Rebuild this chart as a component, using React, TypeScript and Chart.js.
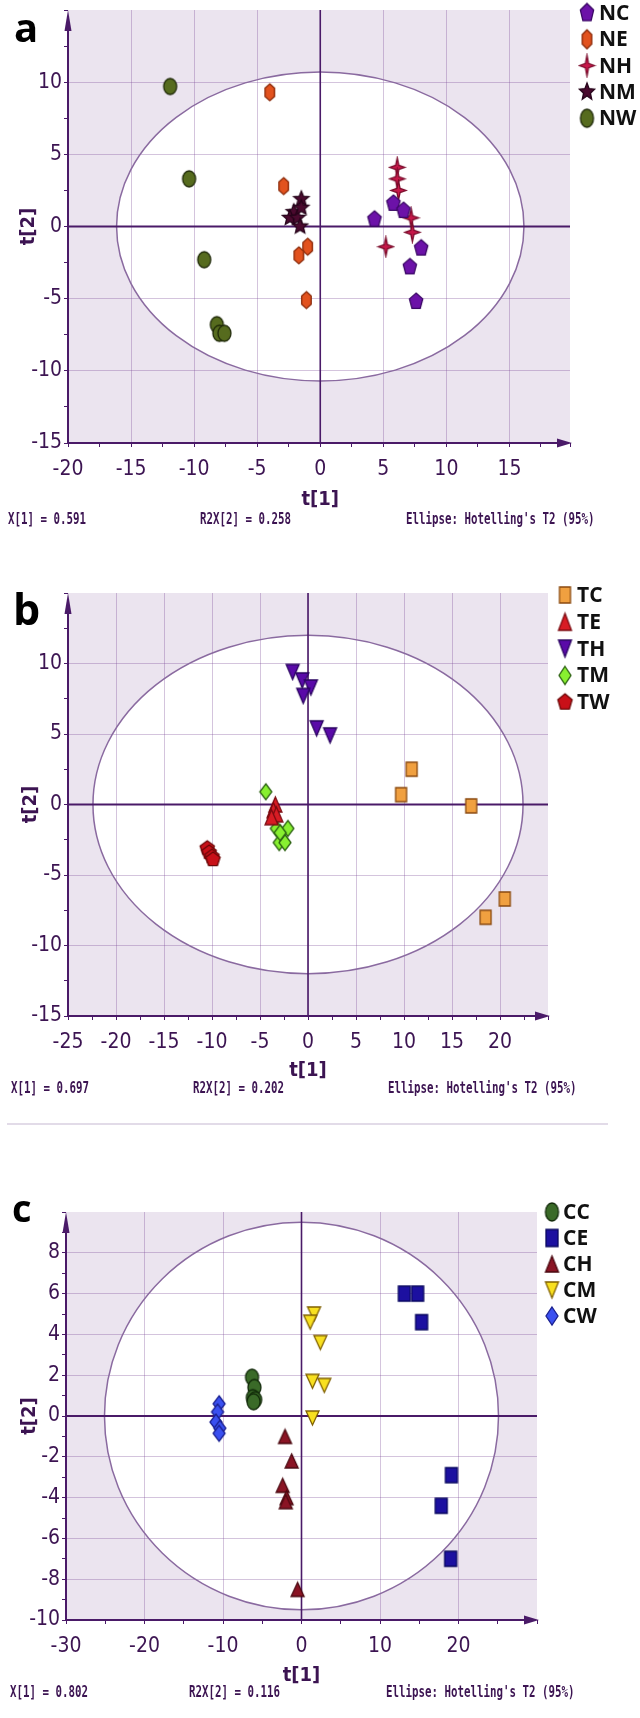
import React, { useEffect, useRef } from 'react';
import { Chart, registerables } from 'chart.js';

Chart.register(...registerables);

// ---------- Panel a data ----------
const NC_x = [4.3, 5.8, 6.6, 8.0, 7.1, 7.6];
const NC_y = [0.5, 1.6, 1.1, -1.5, -2.8, -5.2];
const NE_x = [-4.0, -2.9, -1.0, -1.7, -1.1];
const NE_y = [9.3, 2.8, -1.4, -2.0, -5.1];
const NH_x = [6.1, 6.1, 6.2, 7.2, 7.3, 5.2];
const NH_y = [4.1, 3.3, 2.5, 0.6, -0.4, -1.4];
const NM_x = [-1.5, -2.1, -2.4, -1.8, -1.6, -1.5];
const NM_y = [1.9, 1.0, 0.6, 0.6, 0.0, 1.3];
const NW_x = [-11.9, -10.4, -9.2, -8.2, -8.0, -7.6];
const NW_y = [9.7, 3.3, -2.3, -6.8, -7.4, -7.4];

// ---------- Panel b data ----------
const TC_x = [10.8, 9.7, 17.0, 20.5, 18.5];
const TC_y = [2.5, 0.7, -0.1, -6.7, -8.0];
const TE_x = [-3.4, -3.6, -3.3, -3.8];
const TE_y = [0.0, -0.4, -0.7, -0.9];
const TH_x = [-1.6, -0.6, 0.3, -0.5, 0.9, 2.3];
const TH_y = [9.4, 8.8, 8.3, 7.7, 5.4, 4.9];
const TM_x = [-4.4, -3.3, -2.1, -3.0, -2.4, -2.9];
const TM_y = [0.9, -1.7, -1.7, -2.7, -2.7, -2.0];
const TW_x = [-10.5, -10.3, -10.0, -9.9];
const TW_y = [-3.1, -3.4, -3.7, -3.9];

// ---------- Panel c data ----------
const CC_x = [-6.3, -6.0, -6.2, -5.9, -6.1];
const CC_y = [1.9, 1.4, 0.9, 0.8, 0.7];
const CE_x = [13.1, 14.8, 15.3, 19.1, 17.8, 19.0];
const CE_y = [6.0, 6.0, 4.6, -2.9, -4.4, -7.0];
const CH_x = [-2.1, -1.25, -2.4, -1.9, -2.0, -0.5];
const CH_y = [-1.0, -2.2, -3.4, -4.0, -4.2, -8.5];
const CM_x = [1.6, 1.1, 2.4, 1.4, 2.9, 1.4];
const CM_y = [5.0, 4.6, 3.6, 1.7, 1.5, -0.1];
const CW_x = [-10.5, -10.7, -10.9, -10.4, -10.5];
const CW_y = [0.6, 0.2, -0.3, -0.6, -0.85];

// ---------- Texts ----------
const FOOT_A = ['X[1] = 0.591', 'R2X[2] = 0.258', "Ellipse: Hotelling's T2 (95%)"];
const FOOT_B = ['X[1] = 0.697', 'R2X[2] = 0.202', "Ellipse: Hotelling's T2 (95%)"];
const FOOT_C = ['X[1] = 0.802', 'R2X[2] = 0.116', "Ellipse: Hotelling's T2 (95%)"];

const AXIS = '#4a1a68';
const GRID = 'rgba(120,70,150,0.32)';
const TXT = '#3c1452';
const TICK_FONT = "'Liberation Sans Narrow','DejaVu Sans Condensed','Arial Narrow',sans-serif";

type Shape = 'pentagon' | 'hexagon' | 'star4' | 'star5' | 'ellipse' | 'rect' | 'triUp' | 'triDown' | 'diamond';

function makeMarker(shape: Shape, fill: string, stroke: string, w: number, h: number) {
  const pad = 2;
  const c = document.createElement('canvas');
  c.width = w + pad * 2;
  c.height = h + pad * 2;
  const ctx = c.getContext('2d')!;
  const cx = c.width / 2, cy = c.height / 2, rx = w / 2, ry = h / 2;
  ctx.beginPath();
  const star = (n: number, inner: number) => {
    for (let k = 0; k < n * 2; k++) {
      const a = -Math.PI / 2 + (k * Math.PI) / n;
      const r = k % 2 === 0 ? 1 : inner;
      const px = cx + rx * r * Math.cos(a), py = cy + ry * r * Math.sin(a);
      if (k === 0) ctx.moveTo(px, py); else ctx.lineTo(px, py);
    }
    ctx.closePath();
  };
  const poly = (n: number) => {
    for (let k = 0; k < n; k++) {
      const a = -Math.PI / 2 + (k * 2 * Math.PI) / n;
      const px = cx + rx * Math.cos(a), py = cy + ry * Math.sin(a);
      if (k === 0) ctx.moveTo(px, py); else ctx.lineTo(px, py);
    }
    ctx.closePath();
  };
  switch (shape) {
    case 'pentagon': poly(5); break;
    case 'hexagon': poly(6); break;
    case 'star4': star(4, 0.3); break;
    case 'star5': star(5, 0.45); break;
    case 'ellipse': ctx.ellipse(cx, cy, rx, ry, 0, 0, Math.PI * 2); break;
    case 'rect': ctx.rect(cx - rx, cy - ry, w, h); break;
    case 'triUp': ctx.moveTo(cx, cy - ry); ctx.lineTo(cx + rx, cy + ry); ctx.lineTo(cx - rx, cy + ry); ctx.closePath(); break;
    case 'triDown': ctx.moveTo(cx, cy + ry); ctx.lineTo(cx + rx, cy - ry); ctx.lineTo(cx - rx, cy - ry); ctx.closePath(); break;
    case 'diamond': ctx.moveTo(cx, cy - ry); ctx.lineTo(cx + rx, cy); ctx.lineTo(cx, cy + ry); ctx.lineTo(cx - rx, cy); ctx.closePath(); break;
  }
  ctx.fillStyle = fill;
  ctx.fill();
  ctx.lineWidth = 1.3;
  ctx.strokeStyle = stroke;
  ctx.stroke();
  return c;
}

type Series = { name: string; xs: number[]; ys: number[]; shape: Shape; fill: string; stroke: string; w: number; h: number };
type AxisCfg = { min: number; max: number; step: number; major: number; labelMax: number };
type PanelCfg = {
  top: number; height: number;
  area: { left: number; right: number; top: number; bottom: number };
  x: AxisCfg; y: AxisCfg;
  ellipse: [number, number];
  letter: string; letterX: number; letterY: number; letterSize: number;
  legend: { mx: number; tx: number; y0: number; dy: number; size: number };
  xTitleY: number; yTitleX: number;
  footerY: number; footerX: number[]; footer: string[];
  separatorY?: number;
  series: Series[];
};

const panels: PanelCfg[] = [
  {
    top: 0, height: 540,
    area: { left: 68, right: 570, top: 10, bottom: 443 },
    x: { min: -20, max: 19.8, step: 2.5, major: 5, labelMax: 15 },
    y: { min: -15, max: 15, step: 2.5, major: 5, labelMax: 10 },
    ellipse: [16.15, 10.7],
    letter: 'a', letterX: 14, letterY: 42, letterSize: 40,
    legend: { mx: 587, tx: 599, y0: 13, dy: 26.3, size: 21 },
    xTitleY: 500, yTitleX: 29,
    footerY: 520, footerX: [8, 200, 406], footer: FOOT_A,
    series: [
      { name: 'NC', xs: NC_x, ys: NC_y, shape: 'pentagon', fill: '#6c12a8', stroke: '#3a0864', w: 14, h: 17 },
      { name: 'NE', xs: NE_x, ys: NE_y, shape: 'hexagon', fill: '#e2521e', stroke: '#8a2a0a', w: 11, h: 17 },
      { name: 'NH', xs: NH_x, ys: NH_y, shape: 'star4', fill: '#c8184a', stroke: '#7a0a2a', w: 15, h: 19 },
      { name: 'NM', xs: NM_x, ys: NM_y, shape: 'star5', fill: '#4a0a2e', stroke: '#26041a', w: 16, h: 16 },
      { name: 'NW', xs: NW_x, ys: NW_y, shape: 'ellipse', fill: '#566b1e', stroke: '#1e2808', w: 13, h: 16 },
    ],
  },
  {
    top: 540, height: 590,
    area: { left: 68, right: 548, top: 53, bottom: 476 },
    x: { min: -25, max: 25, step: 2.5, major: 5, labelMax: 20 },
    y: { min: -15, max: 15, step: 2.5, major: 5, labelMax: 10 },
    ellipse: [22.4, 12.0],
    letter: 'b', letterX: 13, letterY: 85, letterSize: 43,
    legend: { mx: 565, tx: 577, y0: 55, dy: 26.8, size: 21 },
    xTitleY: 531, yTitleX: 31,
    footerY: 549, footerX: [11, 193, 388], footer: FOOT_B,
    separatorY: 584,
    series: [
      { name: 'TC', xs: TC_x, ys: TC_y, shape: 'rect', fill: '#f0a040', stroke: '#8a4a10', w: 11, h: 14 },
      { name: 'TE', xs: TE_x, ys: TE_y, shape: 'triUp', fill: '#d81c24', stroke: '#7a0a10', w: 13, h: 15 },
      { name: 'TH', xs: TH_x, ys: TH_y, shape: 'triDown', fill: '#5a0aa8', stroke: '#2a0460', w: 13, h: 15 },
      { name: 'TM', xs: TM_x, ys: TM_y, shape: 'diamond', fill: '#88f030', stroke: '#2a6010', w: 12, h: 16 },
      { name: 'TW', xs: TW_x, ys: TW_y, shape: 'pentagon', fill: '#c81018', stroke: '#6a0808', w: 15, h: 15 },
    ],
  },
  {
    top: 1130, height: 588,
    area: { left: 66, right: 537, top: 82, bottom: 490 },
    x: { min: -30, max: 30, step: 5, major: 10, labelMax: 20 },
    y: { min: -10, max: 10, step: 1, major: 2, labelMax: 8 },
    ellipse: [25.1, 9.5],
    letter: 'c', letterX: 12, letterY: 92, letterSize: 38,
    legend: { mx: 552, tx: 563, y0: 82, dy: 26, size: 21 },
    xTitleY: 546, yTitleX: 30,
    footerY: 563, footerX: [10, 189, 386], footer: FOOT_C,
    series: [
      { name: 'CC', xs: CC_x, ys: CC_y, shape: 'ellipse', fill: '#3a6a28', stroke: '#102808', w: 13, h: 16 },
      { name: 'CE', xs: CE_x, ys: CE_y, shape: 'rect', fill: '#1c10a0', stroke: '#0a0860', w: 12, h: 15 },
      { name: 'CH', xs: CH_x, ys: CH_y, shape: 'triUp', fill: '#8a1424', stroke: '#4a0810', w: 13, h: 14 },
      { name: 'CM', xs: CM_x, ys: CM_y, shape: 'triDown', fill: '#f8e020', stroke: '#806000', w: 13, h: 14 },
      { name: 'CW', xs: CW_x, ys: CW_y, shape: 'diamond', fill: '#3a50f0', stroke: '#1a2090', w: 12, h: 16 },
    ],
  },
];

const isMult = (v: number, m: number) => Math.abs(v / m - Math.round(v / m)) < 1e-6;

function axisOptions(a: AxisCfg, horizontal: boolean, p: PanelCfg) {
  return {
    type: 'linear',
    min: a.min,
    max: a.max,
    bounds: 'data',
    grid: {
      color: (c: any) => {
        const v = c.tick ? c.tick.value : NaN;
        if (!isFinite(v)) return 'transparent';
        return isMult(v, a.major) && v > a.min + 1e-6 && v < a.max - 1e-6 ? GRID : 'transparent';
      },
      tickColor: AXIS,
      tickLength: 4,
      lineWidth: 1,
      drawTicks: true,
    },
    border: { display: false },
    ticks: {
      stepSize: a.step,
      includeBounds: false,
      autoSkip: false,
      maxRotation: 0,
      padding: horizontal ? 10 : 2,
      color: TXT,
      font: { family: TICK_FONT, size: 21 },
      callback: (v: any) => {
        const n = Number(v);
        return isMult(n, a.major) && n <= a.labelMax + 1e-6 ? String(Math.round(n)) : '';
      },
    },
    afterFit: (s: any) => {
      if (horizontal) {
        s.height = p.height - p.area.bottom;
      } else {
        s.width = p.area.left;
      }
      s.paddingTop = 0; s.paddingBottom = 0; s.paddingLeft = 0; s.paddingRight = 0;
    },
  };
}

function buildConfig(p: PanelCfg): any {
  const imgs = p.series.map((s) => makeMarker(s.shape, s.fill, s.stroke, s.w, s.h));
  const legendImgs = p.series.map((s) => makeMarker(s.shape, s.fill, s.stroke, s.w, s.h + 2));
  const decor = {
    id: 'decor',
    beforeDraw(chart: any) {
      const { ctx, chartArea: ca, scales } = chart;
      const x = scales.x, y = scales.y;
      ctx.save();
      ctx.fillStyle = '#ebe4ef';
      ctx.fillRect(ca.left, ca.top, ca.right - ca.left, ca.bottom - ca.top);
      const cx = x.getPixelForValue(0), cy = y.getPixelForValue(0);
      const rx = x.getPixelForValue(p.ellipse[0]) - cx;
      const ry = cy - y.getPixelForValue(p.ellipse[1]);
      ctx.beginPath();
      ctx.ellipse(cx, cy, rx, ry, 0, 0, Math.PI * 2);
      ctx.fillStyle = '#ffffff';
      ctx.fill();
      ctx.restore();
    },
    beforeDatasetsDraw(chart: any) {
      const { ctx, chartArea: ca, scales } = chart;
      const x = scales.x, y = scales.y;
      ctx.save();
      const cx = x.getPixelForValue(0), cy = y.getPixelForValue(0);
      const rx = x.getPixelForValue(p.ellipse[0]) - cx;
      const ry = cy - y.getPixelForValue(p.ellipse[1]);
      ctx.beginPath();
      ctx.ellipse(cx, cy, rx, ry, 0, 0, Math.PI * 2);
      ctx.strokeStyle = '#8a6aa0';
      ctx.lineWidth = 1.5;
      ctx.stroke();
      // zero lines
      ctx.strokeStyle = AXIS;
      ctx.lineWidth = 1.6;
      ctx.beginPath();
      ctx.moveTo(cx, ca.top);
      ctx.lineTo(cx, ca.bottom);
      ctx.stroke();
      ctx.lineWidth = 2.2;
      ctx.beginPath();
      ctx.moveTo(ca.left, cy);
      ctx.lineTo(ca.right, cy);
      ctx.stroke();
      // axes with arrows
      ctx.lineWidth = 2;
      ctx.beginPath();
      ctx.moveTo(ca.left, ca.bottom);
      ctx.lineTo(ca.left, ca.top + 10);
      ctx.moveTo(ca.left, ca.bottom);
      ctx.lineTo(ca.right - 8, ca.bottom);
      ctx.stroke();
      ctx.fillStyle = AXIS;
      ctx.beginPath();
      ctx.moveTo(ca.left, ca.top);
      ctx.lineTo(ca.left + 3.5, ca.top + 21);
      ctx.lineTo(ca.left - 3.5, ca.top + 21);
      ctx.closePath();
      ctx.fill();
      ctx.beginPath();
      ctx.moveTo(ca.right + 2, ca.bottom);
      ctx.lineTo(ca.right - 13, ca.bottom - 4.5);
      ctx.lineTo(ca.right - 13, ca.bottom + 4.5);
      ctx.closePath();
      ctx.fill();
      ctx.restore();
    },
    afterDraw(chart: any) {
      const { ctx, scales } = chart;
      const x = scales.x, y = scales.y;
      ctx.save();
      // legend
      p.series.forEach((s, i) => {
        const yy = p.legend.y0 + i * p.legend.dy;
        const img = legendImgs[i];
        ctx.drawImage(img, p.legend.mx - img.width / 2, yy - img.height / 2);
        ctx.font = `bold ${p.legend.size}px 'Open Sans', sans-serif`;
        ctx.fillStyle = '#111111';
        ctx.textAlign = 'left';
        ctx.textBaseline = 'middle';
        ctx.fillText(s.name, p.legend.tx, yy + 1);
      });
      // panel letter
      ctx.font = `bold ${p.letterSize}px 'Open Sans', sans-serif`;
      ctx.fillStyle = '#000000';
      ctx.textAlign = 'left';
      ctx.textBaseline = 'alphabetic';
      ctx.fillText(p.letter, p.letterX, p.letterY);
      // axis titles
      ctx.font = `bold 20px ${TICK_FONT}`;
      ctx.fillStyle = TXT;
      ctx.textAlign = 'center';
      ctx.textBaseline = 'middle';
      ctx.fillText('t[1]', x.getPixelForValue(0), p.xTitleY);
      ctx.save();
      ctx.translate(p.yTitleX, y.getPixelForValue(0));
      ctx.rotate(-Math.PI / 2);
      ctx.fillText('t[2]', 0, 0);
      ctx.restore();
      // footer
      ctx.font = "bold 15px 'DejaVu Sans Mono', monospace";
      ctx.textAlign = 'left';
      ctx.fillStyle = TXT;
      p.footer.forEach((t, i) => {
        ctx.save();
        ctx.translate(p.footerX[i], p.footerY);
        ctx.scale(0.72, 1);
        ctx.fillText(t, 0, 0);
        ctx.restore();
      });
      if (p.separatorY !== undefined) {
        ctx.strokeStyle = '#d9cfe0';
        ctx.lineWidth = 1.5;
        ctx.beginPath();
        ctx.moveTo(7, p.separatorY);
        ctx.lineTo(608, p.separatorY);
        ctx.stroke();
      }
      ctx.restore();
    },
  };

  return {
    type: 'scatter',
    data: {
      datasets: p.series.map((s, i) => ({
        label: s.name,
        data: s.xs.map((xv, j) => ({ x: xv, y: s.ys[j] })),
        pointStyle: imgs[i],
        pointRadius: 8,
        pointHoverRadius: 8,
        showLine: false,
      })),
    },
    options: {
      animation: false,
      responsive: false,
      devicePixelRatio: 1,
      events: [],
      layout: { padding: { left: 0, top: p.area.top, right: 640 - p.area.right, bottom: 0 } },
      plugins: { legend: { display: false }, tooltip: { enabled: false } },
      scales: {
        x: axisOptions(p.x, true, p),
        y: axisOptions(p.y, false, p),
      },
    },
    plugins: [decor],
  };
}

function Panel({ p }: { p: PanelCfg }) {
  const ref = useRef<HTMLCanvasElement>(null);
  useEffect(() => {
    const chart = new Chart(ref.current!, buildConfig(p));
    return () => chart.destroy();
  }, [p]);
  return (
    <canvas
      ref={ref}
      width={640}
      height={p.height}
      style={{ position: 'absolute', left: 0, top: p.top, width: 640, height: p.height, display: 'block' }}
    />
  );
}

export default function App() {
  return (
    <div style={{ position: 'absolute', left: 0, top: 0, width: 640, height: 1718, background: '#ffffff', overflow: 'hidden' }}>
      {panels.map((p) => (
        <Panel key={p.letter} p={p} />
      ))}
    </div>
  );
}
